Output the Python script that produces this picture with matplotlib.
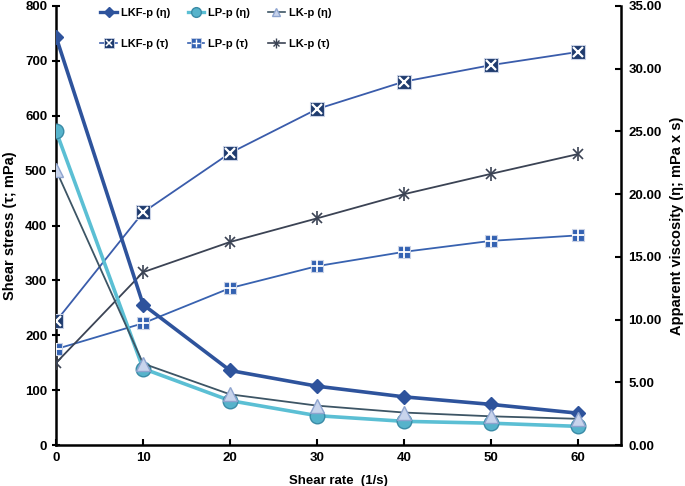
import matplotlib.pyplot as plt
import numpy as np
from matplotlib.lines import Line2D

plt.rcParams['font.family'] = ['Liberation Sans', 'DejaVu Sans']

shear_rate = [0, 10, 20, 30, 40, 50, 60]

# shear stress (left axis, mPa)
lkf_tau = [226, 424, 532, 612, 662, 692, 716]
lp_tau = [175, 222, 286, 326, 352, 372, 382]
lk_tau = [150, 315, 370, 413, 457, 494, 530]

# apparent viscosity (right axis, mPa x s)
lkf_eta = [32.5, 11.2, 5.95, 4.7, 3.85, 3.25, 2.55]
lp_eta = [25.0, 6.1, 3.55, 2.35, 1.9, 1.75, 1.5]
lk_eta = [21.9, 6.5, 4.05, 3.15, 2.6, 2.3, 2.1]

fig = plt.figure(figsize=(6.85, 4.86), dpi=100)
ax = fig.add_axes([0.082, 0.084, 0.825, 0.904])
ax2 = ax.twinx()

# tau series (left axis)
ax.plot(shear_rate, lkf_tau, color='#3a5cab', lw=1.3, marker='s', ms=9.5,
        mfc='#1f3b6e', mec='#c9d2e6', mew=0.8, zorder=3)
ax.plot(shear_rate, lkf_tau, ls='none', marker='x', ms=6.5, mew=1.6, mec='white', zorder=4)
ax.plot(shear_rate, lp_tau, color='#3862b0', lw=1.3, marker='s', ms=9,
        mfc='#3462b2', mec='#c9d2e6', mew=0.8, zorder=3)
ax.plot(shear_rate, lp_tau, ls='none', marker='+', ms=9, mew=1.3, mec='white', zorder=4)
ax.plot(shear_rate, lk_tau, color='#3b4354', lw=1.3, marker='x', ms=7.5, mew=1.2,
        mec='#3b4354', zorder=3)
ax.plot(shear_rate, lk_tau, ls='none', marker='|', ms=10, mew=1.2, mec='#3b4354', zorder=3)

# eta series (right axis)
ax2.plot(shear_rate, lkf_eta, color='#2e539c', lw=2.6, marker='D', ms=7.5,
         mfc='#2e539c', mec='#2e539c', zorder=3)
ax2.plot(shear_rate, lp_eta, color='#5bbfd4', lw=2.6, marker='o', ms=10.5,
         mfc='#56b3cb', mec='#3a8ba6', zorder=3)
ax2.plot(shear_rate, lk_eta, color='#3d5565', lw=1.3, marker='^', ms=10.5,
         mfc='#c8d4ec', mec='#8ea4cf', zorder=4)

ax.set_xlim(0, 65)
ax.set_ylim(0, 800)
ax2.set_ylim(0, 35)
ax.set_xticks(np.arange(0, 61, 10))
ax.set_yticks(np.arange(0, 801, 100))
ax2.set_yticks(np.arange(0, 36, 5))
ax2.set_yticklabels([f'{v:.2f}' for v in np.arange(0, 36, 5)])

for a in (ax, ax2):
    a.spines['top'].set_visible(False)
    for s in a.spines.values():
        s.set_linewidth(1.8)
ax.spines['right'].set_visible(False)
ax2.spines['left'].set_visible(False)
ax2.spines['bottom'].set_visible(False)

ax.tick_params(axis='x', direction='in', length=4, width=1.5, labelsize=9.5, pad=5)
ax.tick_params(axis='y', direction='inout', length=6, width=1.5, labelsize=9.5)
ax2.tick_params(axis='y', direction='in', length=4, width=1.5, labelsize=9.5, pad=5)
for lbl in ax.get_xticklabels() + ax.get_yticklabels() + ax2.get_yticklabels():
    lbl.set_fontweight('bold')

ax.set_xlabel('Shear rate  (1/s)', fontsize=9.5, fontweight='bold', labelpad=8)
ax.set_ylabel('Shear stress (τ; mPa)', fontsize=10.5, fontweight='semibold', labelpad=6)
ax2.set_ylabel('Apparent viscosity (η; mPa x s)', fontsize=10.5, fontweight='semibold', labelpad=6)

# legend
h_lkf_eta = Line2D([], [], color='#2e539c', lw=2.4, marker='D', ms=5, mfc='#2e539c', mec='#2e539c')
h_lp_eta = Line2D([], [], color='#5bbfd4', lw=2.4, marker='o', ms=7, mfc='#56b3cb', mec='#3a8ba6')
h_lk_eta = Line2D([], [], color='#3d5565', lw=1.2, marker='^', ms=6, mfc='#c8d4ec', mec='#8ea4cf')
h_lkf_tau = (Line2D([], [], color='#3a5cab', lw=1.2, marker='s', ms=6.5, mfc='#1f3b6e', mec='#c9d2e6', mew=0.6),
             Line2D([], [], ls='none', marker='x', ms=4, mew=1.1, mec='white'))
h_lp_tau = (Line2D([], [], color='#3862b0', lw=1.2, marker='s', ms=6.5, mfc='#3462b2', mec='#c9d2e6', mew=0.6),
            Line2D([], [], ls='none', marker='+', ms=6, mew=1.0, mec='white'))
h_lk_tau = (Line2D([], [], color='#3b4354', lw=1.2, marker='x', ms=5, mew=1, mec='#3b4354'),
            Line2D([], [], ls='none', marker='|', ms=7, mew=1, mec='#3b4354'))
handles = [h_lkf_eta, h_lkf_tau, h_lp_eta, h_lp_tau, h_lk_eta, h_lk_tau]
labels = ['LKF-p (η)', 'LKF-p (τ)', 'LP-p (η)', 'LP-p (τ)', 'LK-p (η)', 'LK-p (τ)']
leg = ax2.legend(handles, labels, ncol=3, loc='upper left', bbox_to_anchor=(0.078, 0.995),
                 frameon=False, fontsize=8, handlelength=1.5, columnspacing=1.6,
                 labelspacing=1.9, handletextpad=0.35, borderpad=0, borderaxespad=0)
for t in leg.get_texts():
    t.set_fontweight('bold')

fig.savefig('out.png', dpi=100)
